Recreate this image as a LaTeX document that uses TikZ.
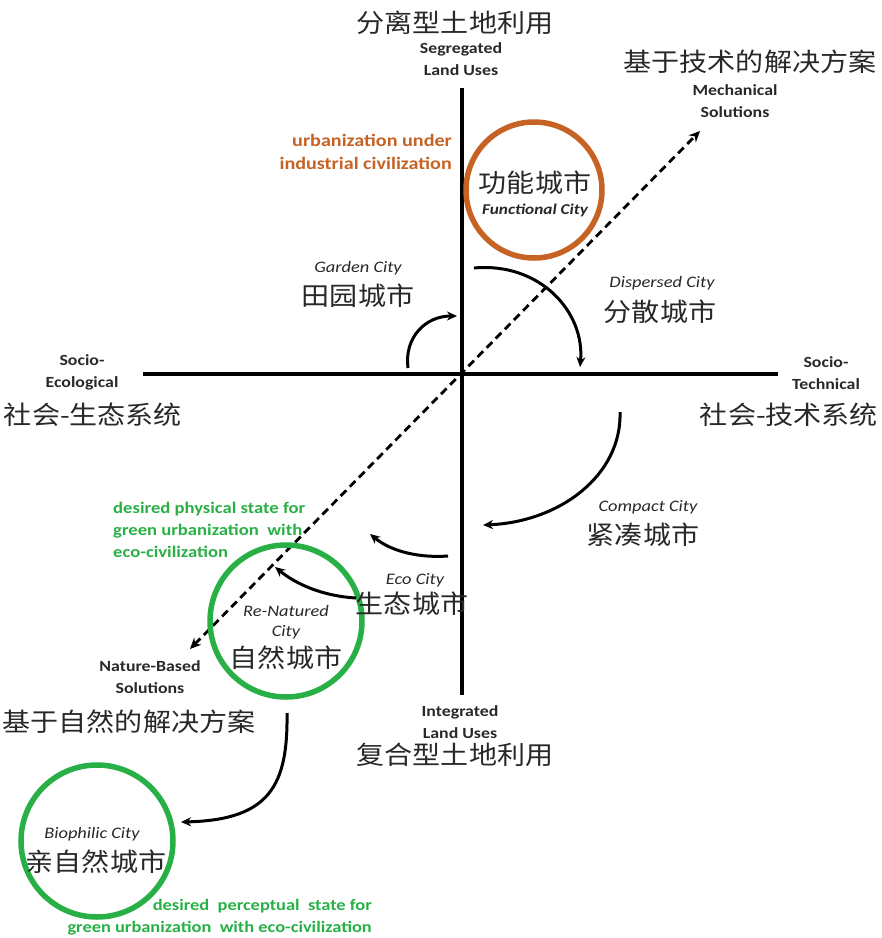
\documentclass[tikz,border=0pt]{standalone}
\usepackage{fontspec}
\setmainfont[FakeStretch=1.15]{Carlito}
\newfontfamily\cjk[FakeStretch=1.1]{Noto Sans CJK SC}
\usetikzlibrary{arrows.meta}
\definecolor{orng}{RGB}{197,98,36}
\definecolor{grn}{RGB}{40,176,70}
\definecolor{txt}{RGB}{40,40,40}
\tikzset{
  axis/.style={line width=3.4pt, black},
  flow/.style={line width=3pt, black, -{Stealth[length=10pt,width=9pt]}},
  diag/.style={line width=2.8pt, black, dash pattern=on 8pt off 5pt, {Stealth[length=11pt,width=10pt]}-{Stealth[length=11pt,width=10pt]}},
  cn/.style={font=\cjk\fontsize{25.5}{27}\selectfont, text=txt, inner sep=0pt},
  en/.style={font=\fontsize{15.5}{22}\selectfont\bfseries, text=txt, align=center, inner sep=0pt},
  ital/.style={font=\fontsize{16}{20}\selectfont\itshape, text=txt, align=center, inner sep=0pt},
  note/.style={inner sep=0pt},
  ring/.style={circle, line width=5.5pt, inner sep=0pt}
}
\begin{document}
\begin{tikzpicture}[x=1pt,y=-1pt]
\useasboundingbox (0,0) rectangle (882,938);
% axes
\coordinate (vtop) at (462,88);
\coordinate (vbot) at (462,695);
\coordinate (hl) at (143,374);
\coordinate (hr) at (778,374);
\draw[axis] (vtop) -- (vbot);
\draw[axis] (hl) -- (hr);
% diagonal
\coordinate (dtop) at (700,131);
\coordinate (dbot) at (190,649);
\draw[diag] (dbot) -- (dtop);
% circles
\node[ring, draw=orng, minimum size=136pt] (func) at (534,190) {};
\node[ring, draw=grn, minimum size=152pt] (renat) at (286,621) {};
\node[ring, draw=grn, minimum size=152pt] (bio) at (97,841) {};
% axis labels
\node[cn] (seg) at (455,23) {分离型土地利用};
\node[en] (segE) at (461,59) {Segregated\\Land Uses};
\node[cn] (mech) at (750,62) {基于技术的解决方案};
\node[en] (mechE) at (735,101) {Mechanical\\Solutions};
\node[en] (seE) at (82,372) {Socio-\\Ecological};
\node[cn] (se) at (93,415) {社会-生态系统};
\node[en] (stE) at (826,373) {Socio-\\Technical};
\node[cn] (st) at (789,415) {社会-技术系统};
\node[en] (nbE) at (150,677) {Nature-Based\\Solutions};
\node[cn] (nb) at (129,722) {基于自然的解决方案};
\node[en] (intE) at (460,722) {Integrated\\Land Uses};
\node[cn] (int) at (455,755) {复合型土地利用};
% city labels
\node[cn] (funcC) at (535,183) {功能城市};
\node[ital] (funcE) at (535,210) {\fontsize{15}{18}\selectfont\bfseries Functional City};
\node[ital] (garE) at (358,268) {Garden City};
\node[cn] (gar) at (358,296) {田园城市};
\node[ital] (disE) at (662,283) {Dispersed City};
\node[cn] (dis) at (660,312) {分散城市};
\node[ital] (comE) at (648,507) {Compact City};
\node[cn] (com) at (643,535) {紧凑城市};
\node[ital] (ecoE) at (415,580) {Eco City};
\node[cn] (eco) at (412,604) {生态城市};
\node[ital] (renE) at (286,622) {Re-Natured\\City};
\node[cn] (ren) at (286,658) {自然城市};
\node[ital] (bioE) at (92,834) {Biophilic City};
\node[cn] (bioC) at (96,862) {亲自然城市};
% notes
\node[note, text=orng, align=right, anchor=east, font=\fontsize{17.5}{23}\selectfont\bfseries] (ind) at (452,152) {urbanization under\\industrial civilization};
\node[note, text=grn, align=left, anchor=west, font=\fontsize{16.2}{22}\selectfont\bfseries] (phys) at (113,530) {desired physical state for\\green urbanization~~with\\eco-civilization};
\node[note, text=grn, align=right, anchor=east, font=\fontsize{16}{22}\selectfont\bfseries] (perc) at (372,917) {desired~~perceptual~~state for\\green urbanization~~with eco-civilization};
% flow arrows
\coordinate (g1) at (408,368); \coordinate (g2) at (457,316);
\coordinate (d1) at (474,268); \coordinate (d2) at (580,367);
\coordinate (c1) at (620,412); \coordinate (c2) at (483,525);
\coordinate (e1) at (448,556); \coordinate (e2) at (370,534);
\coordinate (r1) at (356,598); \coordinate (r2) at (275,567);
\coordinate (b1) at (287,713); \coordinate (b2) at (181,822);
\draw[flow] (g1) .. controls (404,338) and (425,316) .. (g2);
\draw[flow] (d1) .. controls (540,262) and (585,312) .. (d2);
\draw[flow] (c1) .. controls (622,475) and (560,522) .. (c2);
\draw[flow] (e1) .. controls (420,558) and (392,552) .. (e2);
\draw[flow] (r1) .. controls (322,596) and (296,584) .. (r2);
\draw[flow] (b1) .. controls (288,785) and (270,820) .. (b2);
\end{tikzpicture}
\end{document}
